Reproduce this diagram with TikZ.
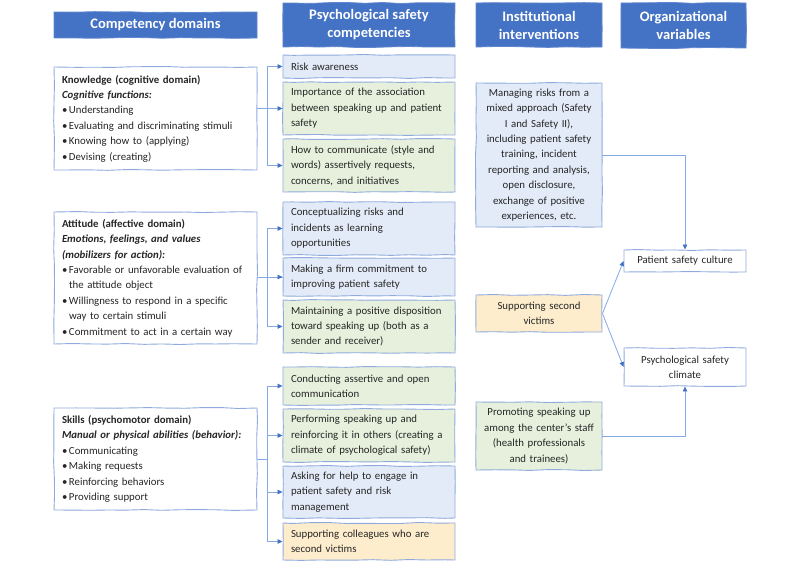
\documentclass[tikz,border=0pt]{standalone}
\usepackage{fontspec}
\setmainfont{Carlito}
\usetikzlibrary{arrows.meta,decorations.pathmorphing}
\definecolor{hdr}{HTML}{4472C4}
\definecolor{bdr}{HTML}{8FAADC}
\definecolor{lnk}{HTML}{86A8E6}
\definecolor{tip}{HTML}{4472C4}
\definecolor{fblue}{HTML}{E2EBF7}
\definecolor{fgreen}{HTML}{E7F0DD}
\definecolor{fyel}{HTML}{FDEDCD}
\definecolor{txt}{HTML}{262626}
\newcommand{\bl}{\makebox[7pt][l]{•}}
\newcommand{\bi}{\hspace*{7pt}}
\begin{document}
\begin{tikzpicture}[x=1pt,y=-1pt,
  sketch/.style={decorate,decoration={random steps,segment length=18pt,amplitude=0.5pt}},
  hbox/.style={draw=hdr!85!white,line width=0.8pt,fill=hdr,text=white,font=\fontsize{14.5}{18}\selectfont\bfseries,align=center,inner sep=0pt,sketch},
  bbox/.style={draw=bdr,line width=0.9pt,text=txt,font=\fontsize{10.8}{15.4}\selectfont,inner xsep=8pt,inner ysep=0pt,align=left,sketch},
  cbox/.style={bbox,text width=156pt,minimum width=172pt},
  dbox/.style={bbox,text width=187pt,minimum width=203pt},
  ibox/.style={bbox,align=center,inner xsep=4pt,text width=118pt,minimum width=126pt},
  obox/.style={bbox,align=center,inner xsep=4pt,text width=114pt,minimum width=122pt,fill=white},
  conn/.style={draw=lnk,line width=0.8pt},
  arr/.style={conn,-{Triangle[length=5pt,width=4.5pt,color=tip]}}
]
\pgfmathsetseed{7}
\useasboundingbox (0,0) rectangle (800,567);
% headers
\node[hbox,minimum width=203pt,minimum height=26pt] (h1) at (155.5,25) {Competency domains};
\node[hbox,minimum width=172pt,minimum height=44pt] (h2) at (369,25) {Psychological safety\\competencies};
\node[hbox,minimum width=126pt,minimum height=44pt] (h3) at (539,25) {Institutional\\interventions};
\node[hbox,minimum width=125pt,minimum height=45pt] (h4) at (683.5,25.5) {Organizational\\variables};
% domain boxes
\node[dbox,fill=white,minimum height=103pt] (know) at (155.5,118.5) {\textbf{Knowledge (cognitive domain)}\\
\textbf{\itshape Cognitive functions:}\\
\bl Understanding\\
\bl Evaluating and discriminating stimuli\\
\bl Knowing how to (applying)\\
\bl Devising (creating)};
\node[dbox,fill=white,minimum height=132pt] (att) at (155.5,278) {\textbf{Attitude (affective domain)}\\
\textbf{\itshape Emotions, feelings, and values}\\
\textbf{\itshape (mobilizers for action):}\\
\bl Favorable or unfavorable evaluation of\\
\bi the attitude object\\
\bl Willingness to respond in a specific\\
\bi way to certain stimuli\\
\bl Commitment to act in a certain way};
\node[dbox,fill=white,minimum height=102pt] (skill) at (155.5,459) {\textbf{Skills (psychomotor domain)}\\
\textbf{\itshape Manual or physical abilities (behavior):}\\
\bl Communicating\\
\bl Making requests\\
\bl Reinforcing behaviors\\
\bl Providing support};
% competencies
\node[cbox,fill=fblue,minimum height=23pt] (risk) at (369,66.5) {Risk awareness};
\node[cbox,fill=fgreen,minimum height=53pt] (imp) at (369,108.5) {Importance of the association\\between speaking up and patient\\safety};
\node[cbox,fill=fgreen,minimum height=53pt] (how) at (369,165.5) {How to communicate (style and\\words) assertively requests,\\concerns, and initiatives};
\node[cbox,fill=fblue,minimum height=53pt] (conc) at (369,228.5) {Conceptualizing risks and\\incidents as learning\\opportunities};
\node[cbox,fill=fblue,minimum height=38pt] (firm) at (369,277) {Making a firm commitment to\\improving patient safety};
\node[cbox,fill=fgreen,minimum height=53pt] (maint) at (369,326.5) {Maintaining a positive disposition\\toward speaking up (both as a\\sender and receiver)};
\node[cbox,fill=fgreen,minimum height=38pt] (cond) at (369,386) {Conducting assertive and open\\communication};
\node[cbox,fill=fgreen,minimum height=53pt] (perf) at (369,435.5) {Performing speaking up and\\reinforcing it in others (creating a\\climate of psychological safety)};
\node[cbox,fill=fblue,minimum height=52pt] (ask) at (369,492) {Asking for help to engage in\\patient safety and risk\\management};
\node[cbox,fill=fyel,minimum height=37pt] (supp) at (369,541.5) {Supporting colleagues who are\\second victims};
% institutional
\node[ibox,fill=fblue,minimum height=144pt] (manage) at (539,155) {Managing risks from a\\mixed approach (Safety\\I and Safety II),\\including patient safety\\training, incident\\reporting and analysis,\\open disclosure,\\exchange of positive\\experiences, etc.};
\node[ibox,fill=fyel,minimum height=37pt] (second) at (539,313.5) {Supporting second\\victims};
\node[ibox,fill=fgreen,minimum height=68pt] (prom) at (539,436) {Promoting speaking up\\among the center's staff\\(health professionals\\and trainees)};
% organizational
\node[obox,minimum height=22pt] (psc) at (685,261) {Patient safety culture};
\node[obox,minimum height=38pt] (clim) at (685,367) {Psychological safety\\climate};
% connectors
\coordinate (jx) at (267,0);
\draw[conn] (jx |- risk.west) -- (jx |- how.west);
\draw[conn] (know.east |- imp.west) -- (imp.west);
\draw[arr] (jx |- risk.west) -- (risk.west);
\draw[arr] (jx |- imp.west) -- (imp.west);
\draw[arr] (jx |- how.west) -- (how.west);
\draw[conn] (jx |- conc.west) -- (jx |- maint.west);
\draw[conn] (att.east |- firm.west) -- (firm.west);
\draw[arr] (jx |- conc.west) -- (conc.west);
\draw[arr] (jx |- firm.west) -- (firm.west);
\draw[arr] (jx |- maint.west) -- (maint.west);
\draw[conn] (jx |- cond.west) -- (jx |- supp.west);
\draw[conn] (skill.east) -- (jx |- skill.east);
\draw[arr] (jx |- cond.west) -- (cond.west);
\draw[arr] (jx |- perf.west) -- (perf.west);
\draw[arr] (jx |- ask.west) -- (ask.west);
\draw[arr] (jx |- supp.west) -- (supp.west);
\draw[arr] (manage.east) -| (psc.north);
\draw[arr] (second.east) -- (psc.west);
\draw[arr] (second.east) -- (clim.west);
\draw[arr] (prom.east) -| (clim.south);
\end{tikzpicture}
\end{document}
